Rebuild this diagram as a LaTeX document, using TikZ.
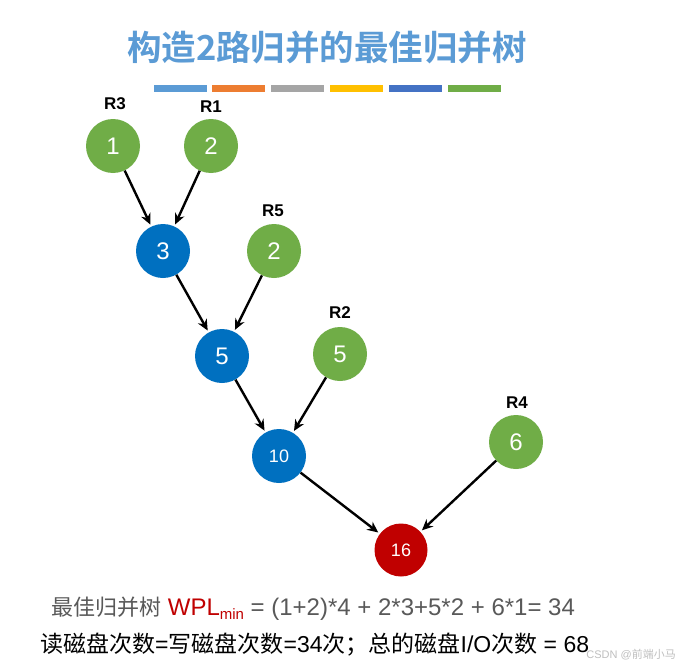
\documentclass[tikz,border=0pt]{standalone}
\usepackage{fontspec}
\setmainfont{Liberation Sans}
\newfontfamily\cjk{Noto Sans CJK SC}
\newfontfamily\cjkb{Noto Sans CJK SC Bold}
\usetikzlibrary{arrows.meta}
\definecolor{tgreen}{HTML}{70AD47}
\definecolor{tblue}{HTML}{0070C0}
\definecolor{tred}{HTML}{C00000}
\definecolor{ttitle}{HTML}{5B9BD5}
\definecolor{bar1}{HTML}{5B9BD5}
\definecolor{bar2}{HTML}{ED7D31}
\definecolor{bar3}{HTML}{A5A5A5}
\definecolor{bar4}{HTML}{FFC000}
\definecolor{bar5}{HTML}{4472C4}
\definecolor{bar6}{HTML}{70AD47}
\definecolor{tgray}{HTML}{595959}
\begin{document}
\begin{tikzpicture}[x=1pt,y=-1pt,
  leaf/.style={circle,fill=tgreen,minimum size=54pt,inner sep=0pt,text=white,font=\fontsize{24}{24}\selectfont},
  inner/.style={circle,fill=tblue,minimum size=54pt,inner sep=0pt,text=white,font=\fontsize{24}{24}\selectfont},
  small/.style={font=\fontsize{18}{18}\selectfont},
  rootn/.style={circle,fill=tred,minimum size=53pt,inner sep=0pt,text=white,font=\fontsize{18}{18}\selectfont},
  lab/.style={font=\bfseries\fontsize{17}{17}\selectfont,inner sep=0pt},
  edge/.style={-{Stealth[length=11pt,width=10pt]},line width=2.4pt,shorten >=2pt},
  bar/.style={inner sep=0pt,minimum height=7pt,minimum width=53pt}
]
\useasboundingbox (0,0) rectangle (680,669);
\fill[white] (0,0) rectangle (680,669);
% title
\node[text=ttitle,font=\cjkb\fontsize{34.5}{34.5}\selectfont] (title) at (327,47) {构造2路归并的最佳归并树};
% bars
\node[bar,fill=bar1] (b1) at (180.5,88.5) {};
\node[bar,fill=bar2] (b2) at (238,88.5) {};
\node[bar,fill=bar3] (b3) at (297,88.5) {};
\node[bar,fill=bar4] (b4) at (356,88.5) {};
\node[bar,fill=bar5] (b5) at (415,88.5) {};
\node[bar,fill=bar6] (b6) at (474.5,88.5) {};
% nodes
\node[leaf] (a1) at (113,146) {1};
\node[leaf] (a2) at (211,146) {2};
\node[inner] (c3) at (163,251) {3};
\node[leaf] (a5) at (274,251) {2};
\node[inner] (c5) at (222,356) {5};
\node[leaf] (a6) at (340,354) {5};
\node[inner,small] (c10) at (279,456) {10};
\node[leaf] (a4) at (516,442) {6};
\node[rootn] (r16) at (401,550) {16};
% labels
\node[lab] (l3) at (115,104) {R3};
\node[lab] (l1) at (211,107) {R1};
\node[lab] (l5) at (273,211) {R5};
\node[lab] (l2) at (340,313) {R2};
\node[lab] (l4) at (517,403) {R4};
% edges
\draw[edge] (a1) -- (c3);
\draw[edge] (a2) -- (c3);
\draw[edge] (c3) -- (c5);
\draw[edge] (a5) -- (c5);
\draw[edge] (c5) -- (c10);
\draw[edge] (a6) -- (c10);
\draw[edge] (c10) -- (r16);
\draw[edge] (a4) -- (r16);
% bottom text
\node[anchor=west,text=tgray,font=\fontsize{24}{24}\selectfont,inner sep=0pt] (t1) at (51,609)
  {{\cjk\fontsize{22}{22}\selectfont 最佳归并树} {\color{tred}WPL\raisebox{-4pt}{\fontsize{15}{15}\selectfont min}} = (1+2)*4 + 2*3+5*2 + 6*1= 34};
\node[anchor=west,text=black,font=\fontsize{23}{23}\selectfont,inner sep=0pt] (t2) at (40,645)
  {{\cjk 读磁盘次数}={\cjk 写磁盘次数}=34{\cjk 次；总的磁盘}I/O{\cjk 次数} = 68};
\node[anchor=east,text=black!25,font=\fontsize{11}{11}\selectfont,inner sep=0pt] (wm) at (676,655)
  {CSDN @{\cjk 前端小马}};
\end{tikzpicture}
\end{document}
